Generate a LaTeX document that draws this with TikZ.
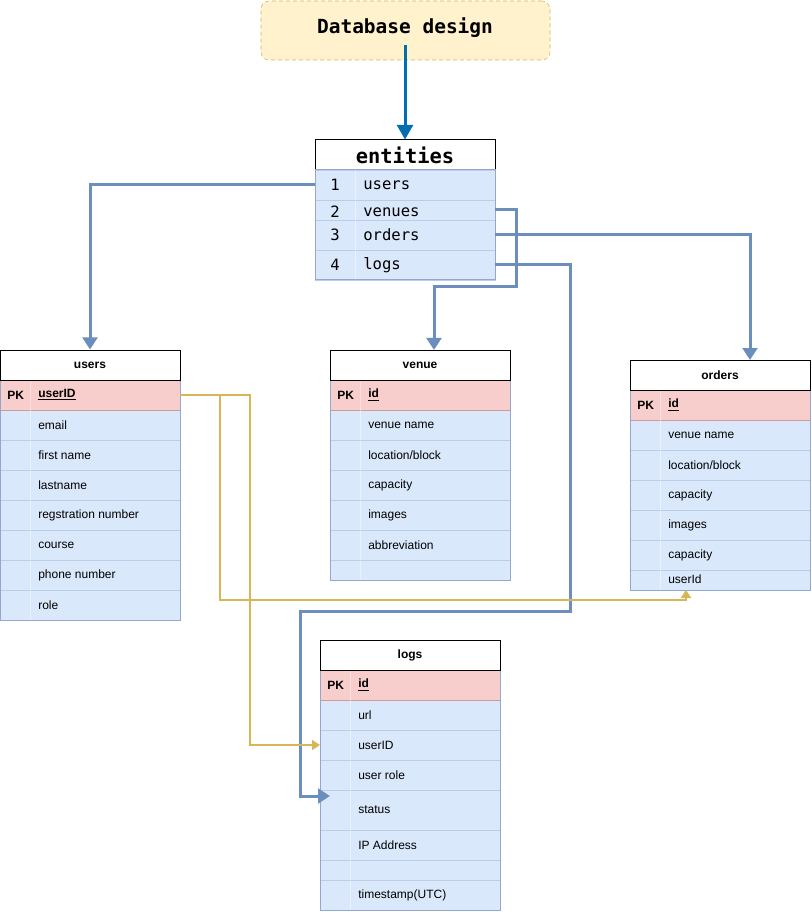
\documentclass[tikz,border=0pt]{standalone}
\usepackage{fontspec}
\setmainfont{Liberation Sans}
\newfontfamily\codefont{DejaVu Sans Mono}
\usetikzlibrary{arrows.meta}

\definecolor{titlefill}{HTML}{FFF2CC}
\definecolor{goldline}{HTML}{D6B656}
\definecolor{topblue}{HTML}{006EAF}
\definecolor{steel}{HTML}{6C8EBF}
\definecolor{bodyblue}{HTML}{DAE8FC}
\definecolor{pkred}{HTML}{F8CECC}
\definecolor{pkline}{HTML}{D09A98}
\definecolor{rowsep}{HTML}{BCCCE6}
\definecolor{tabline}{HTML}{93A8CC}

\begin{document}
\begin{tikzpicture}[x=0.75pt,y=-0.75pt,
  fld/.style={anchor=west,inner sep=0pt,font=\fontsize{9}{10}\selectfont},
  pkfld/.style={fld,font=\fontsize{9}{10}\selectfont\bfseries},
  head/.style={draw=black,fill=white,line width=0.75pt,minimum width=135pt,minimum height=22.5pt,inner sep=0pt,font=\fontsize{9}{10}\selectfont\bfseries},
  pkrow/.style={draw=pkline,fill=pkred,line width=0.6pt,minimum width=135pt,minimum height=22.5pt,inner sep=0pt},
  erow/.style={draw=rowsep,fill=bodyblue,line width=0.6pt,minimum width=135pt,inner sep=0pt},
  code/.style={inner sep=0pt,font=\codefont\fontsize{11.7}{13}\selectfont},
  sep/.style={draw=rowsep,line width=0.6pt},
  divide/.style={draw=white,line width=0.6pt,opacity=0.4},
  outline/.style={draw=tabline,line width=0.75pt},
  steelarrow/.style={draw=steel,line width=2.25pt,-{Triangle[width=11pt,length=9pt]}},
  goldarrow/.style={draw=goldline,line width=1.5pt,-{Triangle[width=7.5pt,length=6pt]}}]
\useasboundingbox (0,0) rectangle (812,912);

\node[draw=goldline,dashed,dash pattern=on 3pt off 2.25pt,fill=titlefill,rounded corners=6pt,minimum width=216.75pt,minimum height=44.25pt] (db) at (405.5,30.5) {};
\node[inner sep=0pt,font=\codefont\bfseries\fontsize{14.6}{16}\selectfont] (dbtext) at (405,28) {Database design};

% entities
\node[head,font=\codefont\bfseries\fontsize{15.3}{17}\selectfont] (eh) at (405,155) {entities};
\node[erow,minimum height=22.5pt] (e1) at (405,185) {};
\node[erow,minimum height=15pt] (e2) at (405,210) {};
\node[erow,minimum height=22.5pt] (e3) at (405,235) {};
\node[erow,minimum height=22.5pt] (e4) at (405,265) {};
\draw[divide] (355,170) -- (355,280);
\draw[outline] (315,170) rectangle (495,280);
\foreach \n/\t/\y in {1/users/185,2/venues/212,3/orders/235,4/logs/265}
{
\node[code] (en\n) at (335,\y) {\n};
\node[code,anchor=west] (et\n) at (363,\y) {\t};
}

% users
\fill[bodyblue] (0,410) rectangle (180,620);
\foreach \y in {440,470,...,590}
\draw[sep] (0,\y) -- (180,\y);
\node[pkrow] (up) at (90,395) {};
\draw[divide] (30,380) -- (30,620);
\draw[outline] (0,380) rectangle (180,620);
\node[head] (uh) at (90,365) {users};
\node[pkfld] (upk) at (7,395) {PK};
\node[pkfld] (uid) at (38,395) {\underline{userID}};
\foreach \t [count=\i] in {email,first name,lastname,regstration number,course,phone number,role}
\node[fld] (u\i) at (38,{395+30*\i}) {\t};

% venue
\fill[bodyblue] (330,410) rectangle (510,580);
\foreach \y in {440,470,...,560}
\draw[sep] (330,\y) -- (510,\y);
\node[pkrow] (vp) at (420,395) {};
\draw[divide] (360,380) -- (360,580);
\draw[outline] (330,380) rectangle (510,580);
\node[head] (vh) at (420,365) {venue};
\node[pkfld] (vpk) at (337,395) {PK};
\node[pkfld] (vid) at (368,395) {\underline{id}};
\foreach \t [count=\i] in {venue name,location/block,capacity,images,abbreviation}
\node[fld] (v\i) at (368,{395+30*\i}) {\t};

% orders
\fill[bodyblue] (630,420) rectangle (810,590);
\foreach \y in {450,480,...,570}
\draw[sep] (630,\y) -- (810,\y);
\node[pkrow] (op) at (720,405) {};
\draw[divide] (660,390) -- (660,590);
\draw[outline] (630,390) rectangle (810,590);
\node[head] (oh) at (720,375) {orders};
\node[pkfld] (opk) at (637,405) {PK};
\node[pkfld] (oid) at (668,405) {\underline{id}};
\foreach \t/\y [count=\i] in {venue name/435,{location/block}/465,capacity/495,images/525,capacity/555,userId/579}
\node[fld] (o\i) at (668,\y) {\t};

% logs
\fill[bodyblue] (320,700) rectangle (500,910);
\foreach \y in {730,760,790,830,860,880}
\draw[sep] (320,\y) -- (500,\y);
\node[pkrow] (lp) at (410,685) {};
\draw[divide] (350,670) -- (350,910);
\draw[outline] (320,670) rectangle (500,910);
\node[head] (lh) at (410,655) {logs};
\node[pkfld] (lpk) at (327,685) {PK};
\node[pkfld] (lid) at (358,685) {\underline{id}};
\foreach \t/\y [count=\i] in {url/715,userID/745,user role/775,status/810,IP Address/845,timestamp(UTC)/895}
\node[fld] (l\i) at (358,\y) {\t};

% connectors
\coordinate (vbend) at (516,287);
\coordinate (vin) at (434,350);
\coordinate (oin) at (750,360);
\coordinate (lbend) at (570,611);
\coordinate (ldown) at (300,796);
\coordinate (lin) at (330,796);
\coordinate (gbend) at (220,600);
\coordinate (gin) at (686,590);
\coordinate (gdown) at (250,745);
\coordinate (lin2) at (320,745);

\draw[topblue,line width=2.25pt,-{Triangle[width=12pt,length=11pt]}] (dbtext.south) ++(0,7) -- (eh.north);
\draw[steelarrow] (e1.west) -| (uh.north);
\draw[steelarrow] (e2.east) -| (vbend) -| (vin);
\draw[steelarrow] (e3.east) -| (oin);
\draw[steelarrow] (e4.east) -| (lbend) -| (ldown) -- (lin);
\draw[goldarrow] (up.east) -| (gbend) -| (gin);
\draw[goldarrow] (up.east) -| (gdown) -- (lin2);
\end{tikzpicture}
\end{document}
